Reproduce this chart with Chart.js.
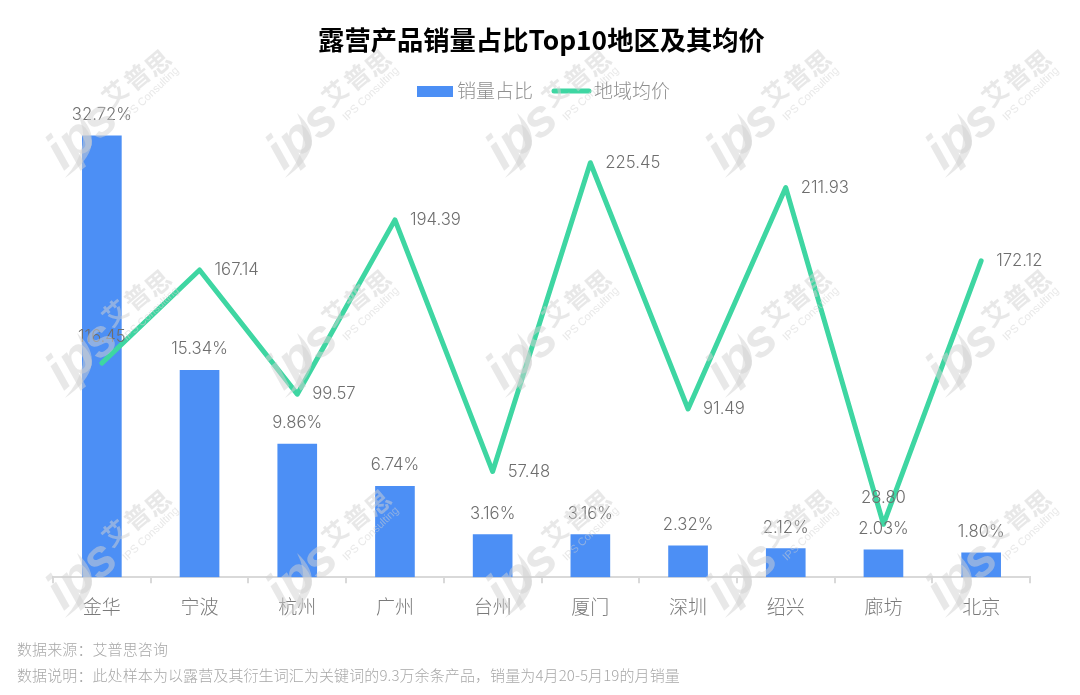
<!DOCTYPE html>
<html>
<head>
<meta charset="utf-8">
<script src="https://cdn.jsdelivr.net/npm/chart.js@4/dist/chart.umd.min.js"></script>
<style>
  html, body { margin: 0; padding: 0; background: #fff; }
  #wrap { position: relative; width: 1080px; height: 695px; overflow: hidden; }
  canvas { position: absolute; left: 0; top: 0; }
  .note { position: absolute; left: 17px; font: 300 15px "Noto Sans CJK SC", sans-serif; color: #a8a8a8; white-space: pre; line-height: 20px; letter-spacing: 0.1px; }
</style>
</head>
<body>
<div id="wrap">
  <canvas id="chart" width="1080" height="695"></canvas>
  <div class="note" style="top:639px">数据来源：艾普思咨询</div>
  <div class="note" style="top:665px">数据说明：此处样本为以露营及其衍生词汇为关键词的9.3万余条产品，销量为4月20-5月19的月销量</div>
</div>
<script>
const categories = ["金华", "宁波", "杭州", "广州", "台州", "厦门", "深圳", "绍兴", "廊坊", "北京"];
const salesShare = [32.72, 15.34, 9.86, 6.74, 3.16, 3.16, 2.32, 2.12, 2.03, 1.80];
const avgPrice = [116.45, 167.14, 99.57, 194.39, 57.48, 225.45, 91.49, 211.93, 28.80, 172.12];
const seriesNames = ["销量占比", "地域均价"];

const FONT = '"Noto Sans CJK SC", sans-serif';
const BAR_COLOR = "#4c8ff5";
const LINE_COLOR = "#3ed6a2";
const LABEL_COLOR = "#6e6e6e";
const LEGEND_COLOR = "#8f8f8f";
// these two price labels sit above the point, the rest to the right
const PRICE_LABELS_ABOVE = [0, 8];

const dataLabels = {
    id: "dataLabels",
    afterDatasetsDraw(chart) {
        let ctx = chart.ctx;
        ctx.save();
        ctx.font = "300 16.7px Inter, sans-serif";
        ctx.fillStyle = LABEL_COLOR;
        ctx.textBaseline = "middle";
        ctx.textAlign = "center";
        chart.getDatasetMeta(0).data.forEach((bar, i) => {
            ctx.fillText(salesShare[i].toFixed(2) + "%", bar.x, bar.y - 21);
        });
        chart.getDatasetMeta(1).data.forEach((pt, i) => {
            if (PRICE_LABELS_ABOVE.includes(i)) {
                ctx.textAlign = "center";
                ctx.fillText(avgPrice[i].toFixed(2), pt.x, pt.y - 26);
            } else {
                ctx.textAlign = "left";
                ctx.fillText(avgPrice[i].toFixed(2), pt.x + 15, pt.y);
            }
        });
        ctx.restore();
    }
};

// legend drawn by hand, the built-in one keeps too wide a gap before the text
const legendRow = {
    id: "legendRow",
    afterDraw(chart) {
        let ctx = chart.ctx;
        ctx.save();
        ctx.fillStyle = BAR_COLOR;
        ctx.fillRect(417, 86, 36, 11);
        ctx.strokeStyle = LINE_COLOR;
        ctx.lineWidth = 5;
        ctx.lineCap = "round";
        ctx.beginPath();
        ctx.moveTo(554, 91);
        ctx.lineTo(589, 91);
        ctx.stroke();
        ctx.font = "300 19px " + FONT;
        ctx.fillStyle = LEGEND_COLOR;
        ctx.textBaseline = "middle";
        ctx.textAlign = "left";
        ctx.fillText(seriesNames[0], 457, 91);
        ctx.fillText(seriesNames[1], 594, 91);
        ctx.restore();
    }
};

function drawMark(ctx, cx, cy) {
    ctx.save();
    ctx.translate(cx, cy);
    ctx.fillStyle = "rgba(210, 210, 210, 0.5)";
    ctx.textBaseline = "middle";
    ctx.textAlign = "center";

    // swoosh behind the letters
    ctx.beginPath();
    ctx.moveTo(-51, 63);
    ctx.quadraticCurveTo(-4, 30, -39, -2);
    ctx.quadraticCurveTo(-22, 30, -51, 63);
    ctx.fill();

    ctx.save();
    ctx.translate(-33, 21);
    ctx.rotate(-0.7);
    ctx.font = "italic 700 52px 'Liberation Sans', sans-serif";
    ctx.fillText("ips", 0, 0);
    ctx.restore();

    [["艾", -1, -22], ["普", 21, -38], ["思", 42, -52]].forEach(([ch, dx, dy]) => {
        ctx.save();
        ctx.translate(dx, dy);
        ctx.rotate(-0.7);
        ctx.font = "700 25px " + FONT;
        ctx.fillText(ch, 0, 0);
        ctx.restore();
    });

    ctx.save();
    ctx.translate(35, -21);
    ctx.rotate(-0.76);
    ctx.font = "11px 'Liberation Sans', sans-serif";
    ctx.fillText("IPS Consulting", 0, 0);
    ctx.restore();
    ctx.restore();
}

const watermark = {
    id: "watermark",
    afterDraw(chart) {
        [115, 335, 555].forEach((y) => {
            [116, 336, 556, 776, 996].forEach((x) => drawMark(chart.ctx, x, y));
        });
    }
};

new Chart(document.getElementById("chart"), {
    type: "bar",
    data: {
        labels: categories,
        datasets: [
            {
                label: seriesNames[0],
                data: salesShare,
                yAxisID: "yShare",
                backgroundColor: BAR_COLOR,
                barThickness: 39,
                order: 2
            },
            {
                type: "line",
                label: seriesNames[1],
                data: avgPrice,
                yAxisID: "yPrice",
                borderColor: LINE_COLOR,
                backgroundColor: LINE_COLOR,
                borderWidth: 5,
                borderCapStyle: "round",
                borderJoinStyle: "round",
                pointRadius: 0,
                tension: 0,
                order: 1
            }
        ]
    },
    options: {
        responsive: false,
        animation: false,
        devicePixelRatio: 1,
        layout: { padding: { left: 53, right: 50, top: 24, bottom: 65 } },
        plugins: {
            tooltip: { enabled: false },
            legend: { display: false },
            title: {
                display: true,
                text: "露营产品销量占比Top10地区及其均价",
                color: "#000",
                font: { family: FONT, size: 26.3, weight: "bold" },
                padding: { top: 0, bottom: 56 }
            }
        },
        scales: {
            x: {
                grid: { display: true, drawOnChartArea: false, drawTicks: true, tickLength: 6, color: "#d9d9d9", lineWidth: 2 },
                border: { display: true, color: "#d9d9d9", width: 2 },
                ticks: { color: "#7a7a7a", font: { family: FONT, size: 19, weight: "300" }, padding: 12, maxRotation: 0 }
            },
            yShare: { display: false, position: "left", min: 0, max: 34.52 },
            yPrice: { display: false, position: "right", min: 0, max: 253.3 }
        }
    },
    plugins: [dataLabels, legendRow, watermark]
});
</script>
</body>
</html>
